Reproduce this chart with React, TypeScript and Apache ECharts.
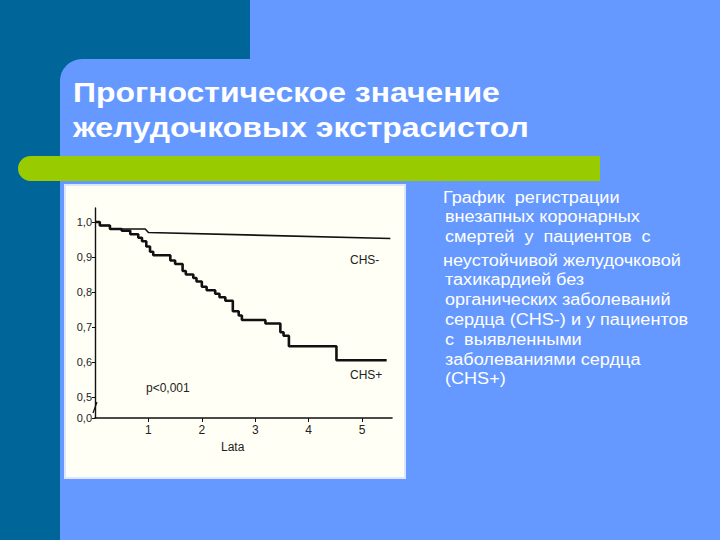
import React, { useEffect, useRef } from "react";
import * as echarts from "echarts";

const titleLines = ["Прогностическое значение", "желудочковых экстрасистол"];
const descLines = [
  "График  регистрации",
  "внезапных коронарных",
  "смертей  у  пациентов  с",
  "неустойчивой желудочковой",
  "тахикардией без",
  "органических заболеваний",
  "сердца (CHS-) и у пациентов",
  "с  выявленными",
  "заболеваниями сердца",
  "(CHS+)",
];

const xTicks = [1, 2, 3, 4, 5];
const yTicks = [0.44, 0.5, 0.6, 0.7, 0.8, 0.9, 1.0];

// CHS- (no organic heart disease)
const chsMinusT = [0, 0.09, 0.09, 0.28, 0.28, 0.94, 1.0, 5.53];
const chsMinusV = [1.0, 1.0, 0.99, 0.99, 0.98, 0.98, 0.97, 0.953];

// CHS+ (with heart disease), step curve
const chsPlusT = [0, 0.09, 0.28, 0.5, 0.66, 0.81, 0.88, 0.96, 1.03, 1.09, 1.41, 1.5, 1.64, 1.7, 1.84, 1.9, 2.0, 2.09, 2.25, 2.33, 2.44, 2.58, 2.69, 2.75, 3.19, 3.47, 3.53, 3.63, 4.52, 5.46];
const chsPlusV = [1.0, 0.99, 0.98, 0.975, 0.965, 0.955, 0.945, 0.93, 0.915, 0.905, 0.89, 0.88, 0.86, 0.85, 0.84, 0.83, 0.815, 0.805, 0.795, 0.785, 0.775, 0.745, 0.733, 0.72, 0.71, 0.685, 0.675, 0.645, 0.605, 0.605];

const chartFont = "'Liberation Sans Narrow', 'Liberation Sans', Arial, sans-serif";

export default function App() {
  const ref = useRef<HTMLDivElement>(null);
  useEffect(() => {
    if (!ref.current) return;
    const chart = echarts.init(ref.current, null, { renderer: "svg" });
    const bgZ = -100;
    const graphics: any[] = [
      { type: "rect", z: bgZ, shape: { x: 0, y: 0, width: 720, height: 540 }, style: { fill: "#006699" } },
      { type: "rect", z: bgZ + 1, shape: { x: 250, y: 0, width: 470, height: 60 }, style: { fill: "#6699FF" } },
      { type: "rect", z: bgZ + 1, shape: { x: 60, y: 59, width: 660, height: 481, r: [22, 0, 0, 0] }, style: { fill: "#6699FF" } },
      { type: "rect", z: bgZ + 2, shape: { x: 18, y: 156, width: 582, height: 25, r: [12.5, 0, 0, 12.5] }, style: { fill: "#99CC00" } },
      { type: "rect", z: bgZ + 2, shape: { x: 65, y: 185, width: 340, height: 293 }, style: { fill: "#FFFFF6", stroke: "#DDE6FF", lineWidth: 2 } },
      { type: "line", z: 50, shape: { x1: 93, y1: 413, x2: 97, y2: 402 }, style: { stroke: "#111", lineWidth: 1.2 } },
    ];
    titleLines.forEach((t, i) => {
      graphics.push({
        type: "text", z: 100, x: 73, y: 92 + i * 35, scaleX: 1.14,
        style: { text: t, fill: "#FFFFFF", font: "bold 28px 'Liberation Sans', Arial, sans-serif", textAlign: "left", textVerticalAlign: "middle" },
      });
    });
    const ys = [198, 217, 237, 261, 280, 300, 320, 340, 360, 379];
    descLines.forEach((t, i) => {
      graphics.push({
        type: "text", z: 100, x: i === 0 || i === 3 ? 443 : 445, y: ys[i], scaleX: 1.13,
        style: { text: t, fill: "#FFFFFF", font: "16px 'Liberation Sans', Arial, sans-serif", textAlign: "left", textVerticalAlign: "middle" },
      });
    });
    const chartLabels = [
      { t: "CHS-", x: 350, y: 260 },
      { t: "CHS+", x: 350, y: 375 },
      { t: "p<0,001", x: 146, y: 388 },
      { t: "Lata", x: 221, y: 447 },
    ];
    chartLabels.forEach((l) => {
      graphics.push({
        type: "text", z: 100, x: l.x, y: l.y,
        style: { text: l.t, fill: "#222", font: "12px " + chartFont, textAlign: "left", textVerticalAlign: "middle" },
      });
    });

    chart.setOption({
      animation: false,
      grid: { left: 95, top: 208, width: 297, height: 210, containLabel: false },
      xAxis: {
        type: "value", min: 0, max: 5.56,
        axisLine: { show: true, lineStyle: { color: "#111", width: 1.6 } },
        axisTick: { show: true, customValues: xTicks, length: 4, lineStyle: { color: "#111" } },
        axisLabel: { customValues: xTicks, color: "#222", fontFamily: chartFont, fontSize: 12, margin: 6 },
        splitLine: { show: false },
      },
      yAxis: {
        type: "value", min: 0.44, max: 1.04,
        axisLine: { show: true, lineStyle: { color: "#111", width: 1.4 } },
        axisTick: { show: true, customValues: yTicks, length: 3, lineStyle: { color: "#111" } },
        axisLabel: {
          customValues: yTicks, color: "#222", fontFamily: chartFont, fontSize: 11, margin: 3,
          formatter: (v: number) => (v < 0.45 ? "0,0" : v.toFixed(1).replace(".", ",")),
        },
        splitLine: { show: false },
      },
      series: [
        {
          name: "CHS-", type: "line", showSymbol: false,
          data: chsMinusT.map((t, i) => [t, chsMinusV[i]]),
          lineStyle: { color: "#111", width: 1.6 }, itemStyle: { color: "#111" },
        },
        {
          name: "CHS+", type: "line", showSymbol: false, step: "end",
          data: chsPlusT.map((t, i) => [t, chsPlusV[i]]),
          lineStyle: { color: "#111", width: 2.6 }, itemStyle: { color: "#111" },
        },
      ],
      graphic: graphics,
    });
    return () => chart.dispose();
  }, []);
  return <div ref={ref} style={{ position: "absolute", left: 0, top: 0, width: 720, height: 540 }} />;
}
